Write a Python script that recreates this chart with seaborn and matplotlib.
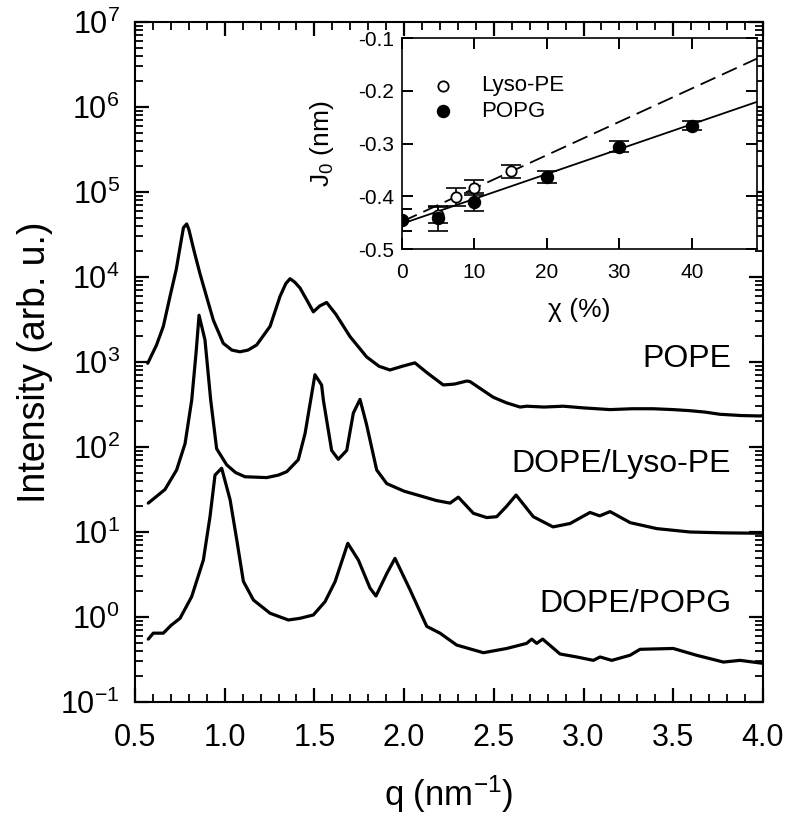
import seaborn as sns
import matplotlib.pyplot as plt
import matplotlib.ticker as mticker
import pandas as pd
import numpy as np

sns.set_style('ticks')
plt.rcParams.update({
    'font.family': ['Liberation Sans', 'DejaVu Sans'],
    'mathtext.fontset': 'custom',
    'mathtext.rm': 'Liberation Sans',
    'mathtext.it': 'Liberation Sans:italic',
    'mathtext.default': 'regular',
    'axes.unicode_minus': False,
    'text.color': 'black',
    'axes.labelcolor': 'black',
    'axes.edgecolor': 'black',
    'xtick.color': 'black',
    'ytick.color': 'black',
})

# SAXS curves (q in nm^-1, log10 intensity)
pope_q = [0.571, 0.62, 0.658, 0.695, 0.73, 0.751, 0.770, 0.788, 0.80, 0.83, 0.862, 0.90, 0.937,
          0.992, 1.04, 1.085, 1.13, 1.178, 1.253, 1.308, 1.34, 1.364, 1.39, 1.42, 1.46, 1.494,
          1.53, 1.568, 1.62, 1.698, 1.791, 1.86, 1.921, 1.99, 2.06, 2.13, 2.218, 2.28, 2.349,
          2.367, 2.43, 2.497, 2.57, 2.646, 2.683, 2.78, 2.887, 3.0, 3.148, 3.27, 3.389, 3.5,
          3.594, 3.68, 3.76, 3.88, 3.983, 4.0]
pope_log = [2.985, 3.2, 3.42, 3.77, 4.09, 4.35, 4.58, 4.624, 4.56, 4.3, 4.04, 3.76, 3.49,
            3.22, 3.14, 3.12, 3.14, 3.2, 3.42, 3.77, 3.92, 3.98, 3.94, 3.87, 3.72, 3.59,
            3.66, 3.70, 3.56, 3.30, 3.06, 2.95, 2.906, 2.95, 2.99, 2.87, 2.73, 2.74, 2.776,
            2.77, 2.68, 2.585, 2.52, 2.47, 2.48, 2.47, 2.48, 2.46, 2.44, 2.45, 2.45, 2.44,
            2.427, 2.41, 2.385, 2.37, 2.365, 2.37]

lyso_q = [0.574, 0.667, 0.732, 0.779, 0.816, 0.84, 0.857, 0.89, 0.922, 0.955, 1.011, 1.06,
          1.113, 1.234, 1.30, 1.346, 1.41, 1.448, 1.475, 1.503, 1.54, 1.55, 1.596, 1.633,
          1.68, 1.717, 1.754, 1.79, 1.847, 1.903, 1.921, 2.0, 2.107, 2.18, 2.256, 2.302,
          2.386, 2.46, 2.516, 2.57, 2.624, 2.72, 2.83, 2.925, 3.036, 3.09, 3.148, 3.26,
          3.408, 3.594, 3.78, 4.0]
lyso_log = [1.34, 1.50, 1.73, 2.04, 2.55, 3.1, 3.55, 3.26, 2.55, 1.98, 1.79, 1.70,
            1.65, 1.64, 1.67, 1.71, 1.85, 2.16, 2.5, 2.85, 2.73, 2.55, 1.96, 1.855,
            1.96, 2.40, 2.56, 2.27, 1.73, 1.57, 1.553, 1.48, 1.415, 1.37, 1.34, 1.41,
            1.22, 1.17, 1.18, 1.3, 1.435, 1.18, 1.06, 1.10, 1.23, 1.19, 1.24, 1.11,
            1.04, 1.0, 0.99, 0.985]

popg_q = [0.574, 0.602, 0.658, 0.70, 0.751, 0.816, 0.881, 0.918, 0.946, 0.983, 1.03, 1.067,
          1.104, 1.16, 1.253, 1.355, 1.42, 1.494, 1.559, 1.615, 1.686, 1.745, 1.81, 1.843,
          1.903, 1.949, 2.033, 2.126, 2.2, 2.293, 2.442, 2.572, 2.683, 2.711, 2.739, 2.772,
          2.869, 2.962, 3.055, 3.092, 3.157, 3.259, 3.315, 3.50, 3.63, 3.78, 3.872, 4.0]
popg_log = [-0.26, -0.19, -0.19, -0.1, -0.015, 0.24, 0.67, 1.18, 1.67, 1.75, 1.38, 0.91,
            0.42, 0.2, 0.044, -0.035, -0.015, 0.024, 0.18, 0.415, 0.867, 0.67, 0.34, 0.247,
            0.51, 0.69, 0.32, -0.11, -0.19, -0.33, -0.42, -0.37, -0.31, -0.26, -0.31, -0.26,
            -0.435, -0.47, -0.51, -0.47, -0.51, -0.45, -0.38, -0.37, -0.45, -0.53, -0.51, -0.545]

curve_labels = ['POPE', 'DOPE/Lyso-PE', 'DOPE/POPG']
label_pos = [3.035, 1.80, 0.153]  # log10 height of the labels

# inset: spontaneous curvature vs. mole fraction
lyso_x = [0, 5, 7.5, 10, 15]
lyso_j0 = [-0.445, -0.435, -0.402, -0.384, -0.353]
lyso_err = [0.02, 0.015, 0.017, 0.014, 0.012]
popg_x = [0, 5, 10, 20, 30, 40]
popg_j0 = [-0.445, -0.442, -0.41, -0.363, -0.306, -0.266]
popg_err = [0.02, 0.024, 0.017, 0.011, 0.01, 0.008]
fit_x = [0, 49]
fit_popg = [-0.452, -0.221]
fit_lyso = [-0.448, -0.139]

curves = pd.concat([
    pd.DataFrame({'q': q, 'I': np.power(10.0, lg), 'sample': name})
    for q, lg, name in [(pope_q, pope_log, 'POPE'), (lyso_q, lyso_log, 'DOPE/Lyso-PE'),
                        (popg_q, popg_log, 'DOPE/POPG')]
])

fig = plt.figure(figsize=(7.89, 8.23), dpi=100)
ax = fig.add_axes([0.1711, 0.1470, 0.7959, 0.8263])

for name in curve_labels:
    d = curves[curves['sample'] == name]
    sns.lineplot(data=d, x='q', y='I', ax=ax, color='black', lw=2.3,
                 sort=False, estimator=None)

ax.set_yscale('log')
ax.set_xlim(0.5, 4.0)
ax.set_ylim(1e-1, 1e7)
ax.xaxis.set_major_locator(mticker.MultipleLocator(0.5))
ax.xaxis.set_minor_locator(mticker.MultipleLocator(0.1))
ax.xaxis.set_major_formatter(mticker.FormatStrFormatter('%.1f'))
ax.yaxis.set_major_locator(mticker.LogLocator(base=10, numticks=20))
ax.yaxis.set_minor_locator(mticker.LogLocator(base=10, subs=range(2, 10), numticks=20))
ax.yaxis.set_minor_formatter(mticker.NullFormatter())
ax.tick_params(which='both', direction='in', top=True, right=True, color='black',
               length=10, width=1.6)
ax.tick_params(which='minor', length=5.5, width=1.3)
ax.tick_params(which='major', labelsize=22)
ax.tick_params(axis='x', which='major', pad=15)
ax.tick_params(axis='y', which='major', pad=11)
for s in ax.spines.values():
    s.set_linewidth(1.5)

ax.set_xlabel('q (nm$^{-1}$)', fontsize=25)
ax.set_ylabel('Intensity (arb. u.)', fontsize=27)
ax.xaxis.set_label_coords(0.5, -0.105)
ax.yaxis.set_label_coords(-0.13, 0.5)

for name, lg in zip(curve_labels, label_pos):
    ax.text(3.822, 10 ** lg, name, ha='right', va='center', fontsize=23)

# inset
axi = fig.add_axes([0.5095, 0.6974, 0.4499, 0.2564])
axi.set_facecolor('white')
axi.errorbar(lyso_x, lyso_j0, yerr=lyso_err, fmt='none', ecolor='black',
             elinewidth=1.2, capsize=7, capthick=1.2, zorder=2)
axi.errorbar(popg_x, popg_j0, yerr=popg_err, fmt='none', ecolor='black',
             elinewidth=1.2, capsize=7, capthick=1.2, zorder=2)
sns.lineplot(x=fit_x, y=fit_popg, ax=axi, color='black', lw=1.3, zorder=3)
sns.lineplot(x=fit_x, y=fit_lyso, ax=axi, color='black', lw=1.3, zorder=3,
             linestyle=(0, (9, 4)))
sns.scatterplot(x=lyso_x, y=lyso_j0, ax=axi, marker='o', s=55, color='white',
                edgecolor='black', linewidth=1.3, label='Lyso-PE', zorder=4)
sns.scatterplot(x=popg_x, y=popg_j0, ax=axi, marker='o', s=75, color='black',
                edgecolor='black', linewidth=1.0, label='POPG', zorder=5)

axi.set_xlim(0, 49)
axi.set_ylim(-0.5, -0.1)
axi.xaxis.set_major_locator(mticker.MultipleLocator(10))
axi.yaxis.set_major_locator(mticker.MultipleLocator(0.1))
axi.yaxis.set_major_formatter(mticker.FormatStrFormatter('%.1f'))
axi.tick_params(which='major', direction='in', top=True, right=True, length=8,
                width=1.4, labelsize=15, color='black')
axi.tick_params(axis='x', pad=10)
axi.tick_params(axis='y', pad=6)
for s in axi.spines.values():
    s.set_linewidth(1.2)
axi.set_xlabel('χ (%)', fontsize=19)
axi.set_ylabel('J$_0$ (nm)', fontsize=19)
axi.xaxis.set_label_coords(0.5, -0.23)
axi.yaxis.set_label_coords(-0.185, 0.5)
axi.legend(loc='upper left', bbox_to_anchor=(0.06, 0.865), frameon=False, fontsize=16,
           handlelength=1.0, handletextpad=1.2, labelspacing=0.2, borderaxespad=0)

fig.savefig('out.png', dpi=100)
plt.close(fig)
